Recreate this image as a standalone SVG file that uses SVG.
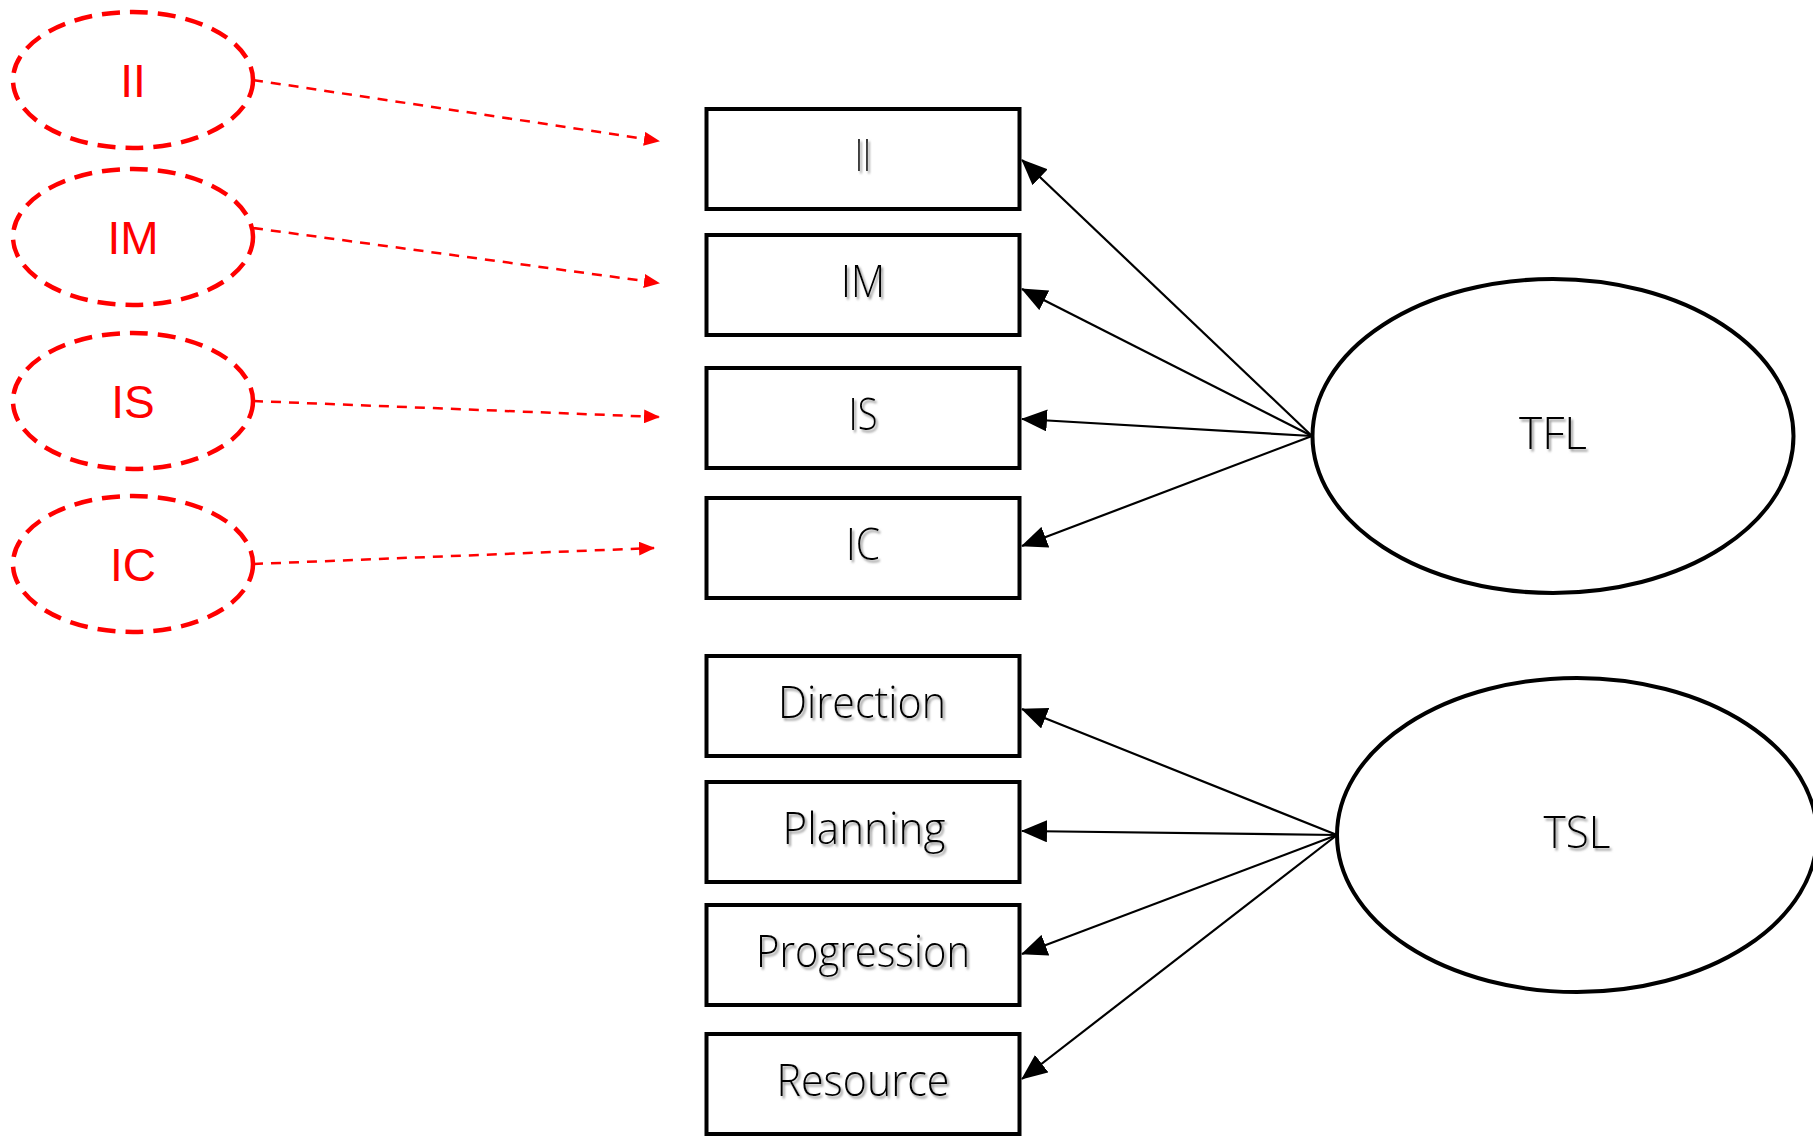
<svg xmlns="http://www.w3.org/2000/svg" width="1813" height="1137" viewBox="0 0 1813 1137">
<style>
.lat{fill:none;stroke:#ff0000;stroke-width:4.5;stroke-dasharray:18 10}
.rtxt{font-family:"Liberation Sans",Arial,sans-serif;font-size:46px;fill:#ff0000;text-anchor:middle}
.box{fill:#ffffff;stroke:#000000;stroke-width:4}
.btxt{font-family:"Open Sans","Noto Sans",sans-serif;font-weight:300;font-size:44px;fill:#000000;text-anchor:middle;filter:url(#sh)}
.fac{fill:#ffffff;stroke:#000000;stroke-width:4}
.dash{fill:none;stroke:#ff0000;stroke-width:2.5;stroke-dasharray:10 8;marker-end:url(#ra)}
.arr{fill:none;stroke:#000000;stroke-width:2.2;marker-end:url(#ba)}
</style>
<defs>
<marker id="ra" markerUnits="userSpaceOnUse" markerWidth="16" markerHeight="14" refX="15" refY="7" orient="auto">
<path d="M0,0 L16,7 L0,14 z" fill="#ff0000"/>
</marker>
<marker id="ba" markerUnits="userSpaceOnUse" markerWidth="26" markerHeight="22" refX="25" refY="11" orient="auto">
<path d="M0,0 L26,11 L0,22 z" fill="#000000"/>
</marker>
<filter id="sh" x="-10%" y="-20%" width="130%" height="150%">
<feDropShadow dx="2" dy="2.5" stdDeviation="1" flood-color="#808080" flood-opacity="0.8"/>
</filter>
</defs>

<g id="connectors">
<line class="dash" x1="253" y1="80" x2="659" y2="141"/>
<line class="dash" x1="253" y1="228" x2="659" y2="283"/>
<line class="dash" x1="253" y1="401" x2="659" y2="417"/>
<line class="dash" x1="253" y1="564" x2="654" y2="548"/>
<line class="arr" x1="1312" y1="436" x2="1022" y2="160"/>
<line class="arr" x1="1312" y1="436" x2="1022" y2="289"/>
<line class="arr" x1="1312" y1="436" x2="1022" y2="419"/>
<line class="arr" x1="1312" y1="436" x2="1022" y2="546"/>
<line class="arr" x1="1337" y1="835" x2="1022" y2="709"/>
<line class="arr" x1="1337" y1="835" x2="1022" y2="831"/>
<line class="arr" x1="1337" y1="835" x2="1022" y2="954"/>
<line class="arr" x1="1337" y1="835" x2="1022" y2="1079"/>
</g>

<g id="e-II"><ellipse class="lat" cx="133" cy="80" rx="120" ry="68"/><text class="rtxt" x="133" y="97">II</text></g>
<g id="e-IM"><ellipse class="lat" cx="133" cy="237" rx="120" ry="68"/><text class="rtxt" x="133" y="254">IM</text></g>
<g id="e-IS"><ellipse class="lat" cx="133" cy="401" rx="120" ry="68"/><text class="rtxt" x="133" y="418">IS</text></g>
<g id="e-IC"><ellipse class="lat" cx="133" cy="564" rx="120" ry="68"/><text class="rtxt" x="133" y="581">IC</text></g>

<g id="b-II"><rect class="box" x="706.5" y="109" width="313" height="100"/><text class="btxt" x="863" y="171" textLength="16" lengthAdjust="spacingAndGlyphs">II</text></g>
<g id="b-IM"><rect class="box" x="706.5" y="235" width="313" height="100"/><text class="btxt" x="863" y="297" textLength="44" lengthAdjust="spacingAndGlyphs">IM</text></g>
<g id="b-IS"><rect class="box" x="706.5" y="368" width="313" height="100"/><text class="btxt" x="863" y="430" textLength="29" lengthAdjust="spacingAndGlyphs">IS</text></g>
<g id="b-IC"><rect class="box" x="706.5" y="498" width="313" height="100"/><text class="btxt" x="863" y="560" textLength="34" lengthAdjust="spacingAndGlyphs">IC</text></g>
<g id="b-Direction"><rect class="box" x="706.5" y="656" width="313" height="100"/><text class="btxt" x="862" y="718" textLength="168" lengthAdjust="spacingAndGlyphs">Direction</text></g>
<g id="b-Planning"><rect class="box" x="706.5" y="782" width="313" height="100"/><text class="btxt" x="864" y="844" textLength="163" lengthAdjust="spacingAndGlyphs">Planning</text></g>
<g id="b-Progression"><rect class="box" x="706.5" y="905" width="313" height="100"/><text class="btxt" x="863" y="967" textLength="214" lengthAdjust="spacingAndGlyphs">Progression</text></g>
<g id="b-Resource"><rect class="box" x="706.5" y="1034" width="313" height="100"/><text class="btxt" x="863" y="1096" textLength="173" lengthAdjust="spacingAndGlyphs">Resource</text></g>

<g id="TFL"><ellipse class="fac" cx="1553" cy="436" rx="240.5" ry="157"/><text class="btxt" x="1553" y="449" textLength="68" lengthAdjust="spacingAndGlyphs">TFL</text></g>
<g id="TSL"><ellipse class="fac" cx="1577" cy="835" rx="240" ry="157"/><text class="btxt" x="1577" y="848" textLength="67" lengthAdjust="spacingAndGlyphs">TSL</text></g>
</svg>
